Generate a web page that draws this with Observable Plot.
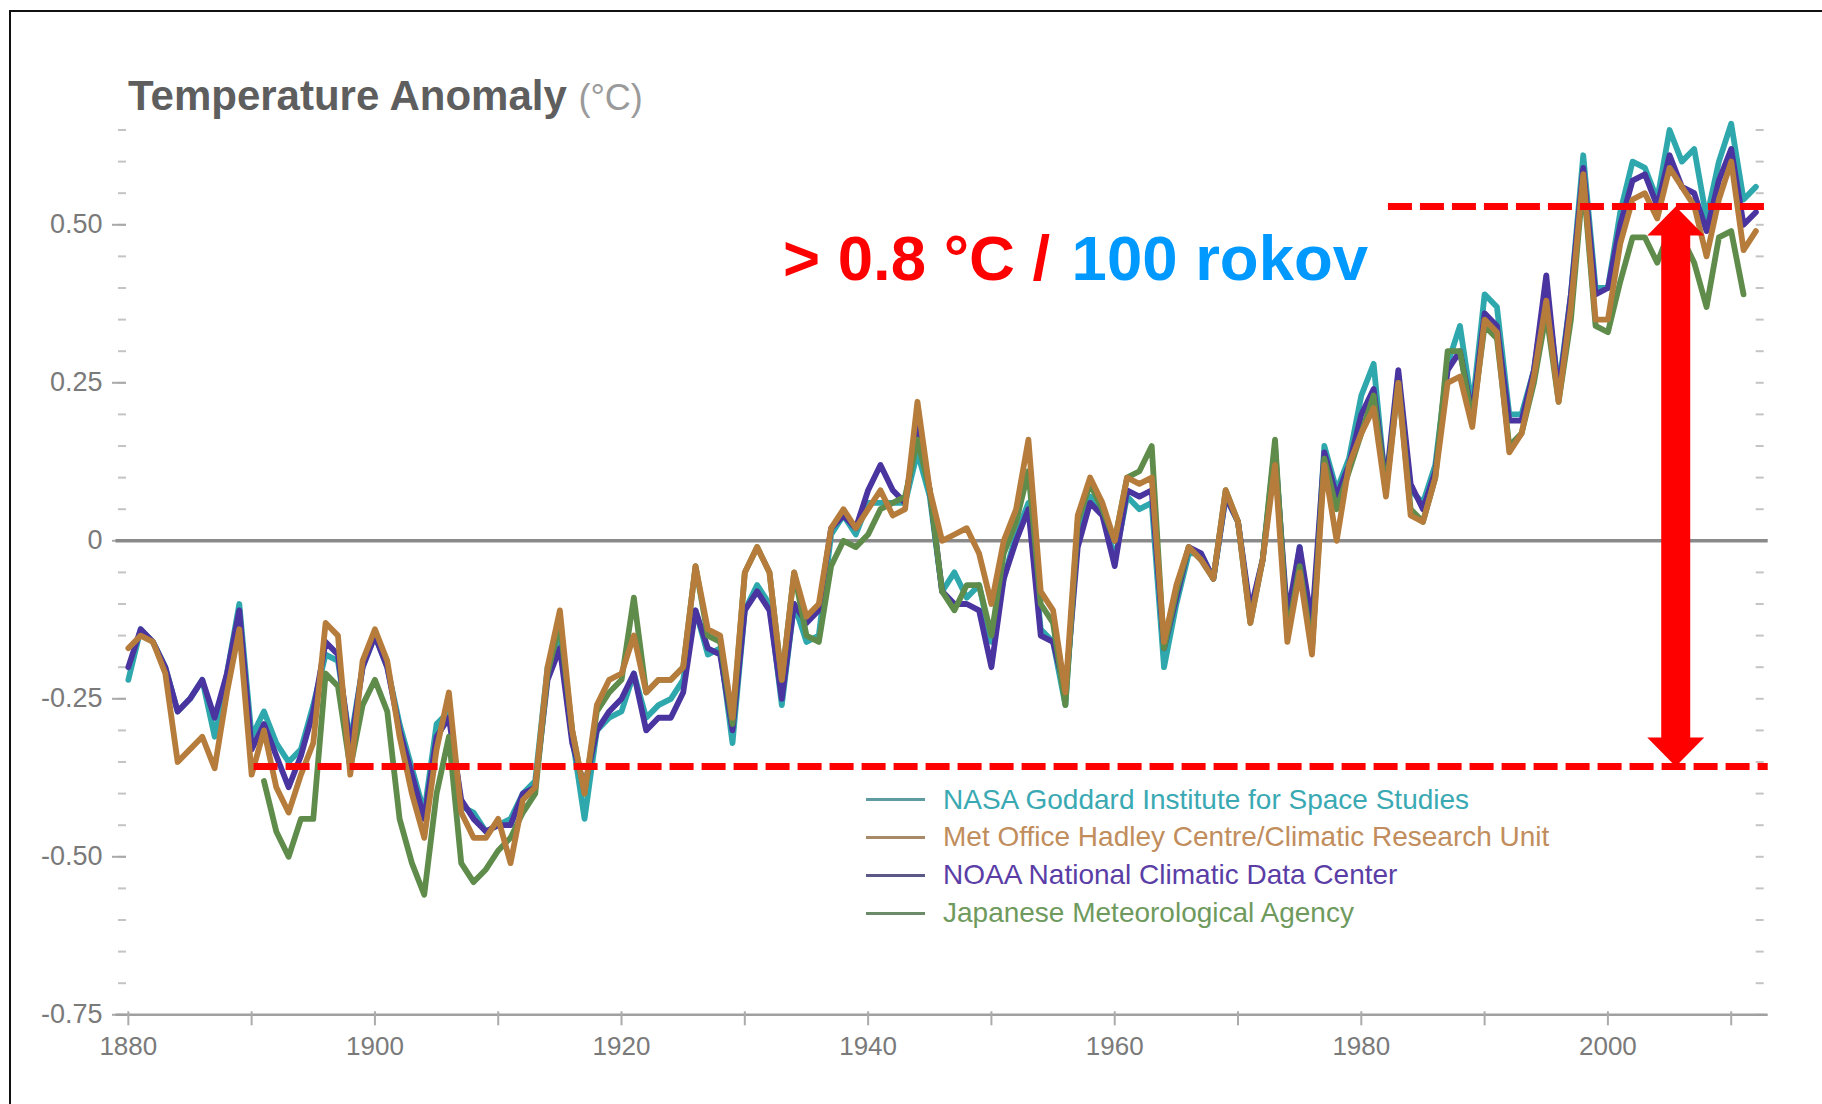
<!DOCTYPE html>
<html><head><meta charset="utf-8">
<script src="https://cdn.jsdelivr.net/npm/d3@7"></script>
<script src="https://cdn.jsdelivr.net/npm/@observablehq/plot@0.6"></script>
<style>
html,body{margin:0;padding:0;background:#fff;}
body{width:1822px;height:1104px;position:relative;overflow:hidden;font-family:"Liberation Sans",Arial,sans-serif;}
#chart{position:absolute;left:0;top:0;}
#frame{position:absolute;left:9px;top:10px;width:1830px;height:1100px;border-left:2.5px solid #111;border-top:2.5px solid #111;pointer-events:none;}
#title{position:absolute;left:128px;top:75px;font-size:42px;line-height:42px;font-weight:bold;color:#5e5e5e;white-space:nowrap;}
#title span{font-weight:normal;color:#9a9a9a;font-size:36px;}
.legend-row{position:absolute;left:866px;height:38px;display:flex;align-items:center;font-size:28px;white-space:nowrap;}
.legend-row .swatch{width:59px;height:3px;margin-right:18px;}
</style></head>
<body>
<div id="chart"></div>
<div id="frame"></div>
<div id="title">Temperature Anomaly <span>(°C)</span></div>
<div id="legend"></div>
<script>
// ---- categories ----
const firstYear = 1880, lastYear = 2012;
const jmaFirstYear = 1891;
const seriesNames = [
  "NASA Goddard Institute for Space Studies",
  "Met Office Hadley Centre/Climatic Research Unit",
  "NOAA National Climatic Data Center",
  "Japanese Meteorological Agency"
];
// ---- series values (°C anomaly), 1880..2012 ----
const nasa = [
  -0.22,-0.14,-0.16,-0.20,-0.27,-0.25,-0.22,-0.31,-0.21,-0.10,
  -0.31,-0.27,-0.32,-0.35,-0.33,-0.26,-0.18,-0.19,-0.32,-0.20,
  -0.15,-0.20,-0.29,-0.36,-0.43,-0.29,-0.27,-0.42,-0.43,-0.46,
  -0.45,-0.44,-0.40,-0.38,-0.20,-0.15,-0.31,-0.44,-0.30,-0.28,
  -0.27,-0.21,-0.28,-0.26,-0.25,-0.22,-0.11,-0.18,-0.17,-0.32,
  -0.11,-0.07,-0.10,-0.26,-0.10,-0.16,-0.15,0.01,0.04,0.01,
  0.06,0.06,0.06,0.06,0.14,0.07,-0.08,-0.05,-0.09,-0.07,
  -0.16,-0.06,0.01,0.06,-0.14,-0.16,-0.26,0.02,0.07,0.05,
  -0.03,0.07,0.05,0.06,-0.20,-0.10,-0.02,-0.02,-0.06,0.07,
  0.03,-0.12,-0.03,0.15,-0.14,-0.01,-0.17,0.15,0.08,0.13,
  0.23,0.28,0.08,0.26,0.08,0.06,0.12,0.28,0.34,0.21,
  0.39,0.37,0.20,0.20,0.27,0.40,0.24,0.39,0.61,0.40,
  0.40,0.52,0.60,0.59,0.54,0.65,0.60,0.62,0.51,0.60,
  0.66,0.54,0.56
];
const hadcrut = [
  -0.17,-0.15,-0.16,-0.21,-0.35,-0.33,-0.31,-0.36,-0.24,-0.14,
  -0.37,-0.30,-0.39,-0.43,-0.37,-0.32,-0.13,-0.15,-0.37,-0.19,
  -0.14,-0.19,-0.31,-0.40,-0.47,-0.33,-0.24,-0.43,-0.47,-0.47,
  -0.44,-0.51,-0.41,-0.39,-0.20,-0.11,-0.30,-0.40,-0.26,-0.22,
  -0.21,-0.15,-0.24,-0.22,-0.22,-0.20,-0.04,-0.14,-0.15,-0.28,
  -0.05,-0.01,-0.05,-0.22,-0.05,-0.12,-0.10,0.02,0.05,0.02,
  0.05,0.08,0.04,0.05,0.22,0.08,0.00,0.01,0.02,-0.02,
  -0.10,0.00,0.05,0.16,-0.08,-0.11,-0.24,0.04,0.10,0.06,
  0.00,0.10,0.09,0.10,-0.16,-0.07,-0.01,-0.03,-0.06,0.08,
  0.03,-0.13,-0.03,0.12,-0.16,-0.05,-0.18,0.12,0.00,0.12,
  0.17,0.21,0.07,0.25,0.04,0.03,0.10,0.25,0.26,0.18,
  0.35,0.33,0.14,0.17,0.26,0.38,0.22,0.37,0.58,0.35,
  0.35,0.47,0.54,0.55,0.51,0.59,0.56,0.53,0.45,0.54,
  0.60,0.46,0.49
];
const noaa = [
  -0.20,-0.14,-0.16,-0.20,-0.27,-0.25,-0.22,-0.28,-0.21,-0.11,
  -0.33,-0.29,-0.34,-0.39,-0.34,-0.27,-0.16,-0.18,-0.33,-0.20,
  -0.15,-0.20,-0.30,-0.37,-0.44,-0.31,-0.28,-0.41,-0.44,-0.46,
  -0.45,-0.45,-0.40,-0.39,-0.22,-0.17,-0.32,-0.39,-0.30,-0.27,
  -0.25,-0.21,-0.30,-0.28,-0.28,-0.24,-0.11,-0.17,-0.18,-0.30,
  -0.11,-0.08,-0.11,-0.25,-0.10,-0.13,-0.11,0.02,0.04,0.02,
  0.08,0.12,0.08,0.06,0.18,0.08,-0.08,-0.10,-0.10,-0.11,
  -0.20,-0.06,0.00,0.05,-0.15,-0.16,-0.24,-0.01,0.06,0.04,
  -0.04,0.08,0.07,0.08,-0.17,-0.09,-0.01,-0.02,-0.06,0.07,
  0.03,-0.11,-0.03,0.14,-0.12,-0.01,-0.13,0.14,0.07,0.12,
  0.20,0.24,0.09,0.27,0.09,0.05,0.11,0.27,0.30,0.20,
  0.36,0.34,0.19,0.19,0.27,0.42,0.23,0.39,0.59,0.39,
  0.40,0.50,0.57,0.58,0.53,0.61,0.56,0.55,0.49,0.57,
  0.62,0.50,0.52
];
// JMA: 1891..2011
const jma = [
  -0.38,-0.46,-0.50,-0.44,-0.44,-0.21,-0.23,-0.36,-0.26,
  -0.22,-0.27,-0.44,-0.51,-0.56,-0.40,-0.31,-0.51,-0.54,-0.52,
  -0.49,-0.47,-0.43,-0.40,-0.21,-0.13,-0.30,-0.40,-0.27,-0.24,
  -0.22,-0.09,-0.24,-0.22,-0.22,-0.20,-0.04,-0.15,-0.16,-0.29,
  -0.05,-0.01,-0.05,-0.22,-0.05,-0.15,-0.16,-0.04,0.00,-0.01,
  0.01,0.05,0.06,0.07,0.16,0.08,-0.08,-0.11,-0.07,-0.07,
  -0.15,-0.02,0.03,0.11,-0.10,-0.13,-0.26,0.03,0.09,0.05,
  0.00,0.10,0.11,0.15,-0.17,-0.08,-0.01,-0.03,-0.06,0.08,
  0.03,-0.13,-0.03,0.16,-0.15,-0.04,-0.17,0.13,0.05,0.11,
  0.17,0.23,0.08,0.25,0.05,0.03,0.10,0.30,0.30,0.19,
  0.34,0.32,0.15,0.17,0.25,0.36,0.22,0.35,0.57,0.34,
  0.33,0.41,0.48,0.48,0.44,0.49,0.48,0.44,0.37,0.48,
  0.49,0.39
];
// ---- tick labels ----
const yLabelTicks = [-0.75, -0.5, -0.25, 0, 0.25, 0.5];
const yMinorTicks = d3.range(-0.75, 0.6501, 0.05);
const xDecadeTicks = [1880,1890,1900,1910,1920,1930,1940,1950,1960,1970,1980,1990,2000,2010];
const xLabelTicks = [1880,1900,1920,1940,1960,1980,2000];
// ---- annotation values ----
const upperLevel = 0.529, lowerLevel = -0.357;
const upperFrom = 1982.2, lowerFrom = 1890.2, levelsTo = 2013;
const arrowYear = 2005.5;
const annotY = 0.413;
const annotRed = "> 0.8 °C /", annotRedYear = 1933.1;
const annotBlue = "100 rokov", annotBlueYear = 1956.5;

// ---- styles ----
const lineColors = {nasa: "#2fa8ad", hadcrut: "#b67c3c", noaa: "#4a34a0", jma: "#5f8c4b"};
const legendText = ["#3aa9b3", "#c18d5c", "#5a3ea6", "#6f9a5e"];
const legendSwatch = ["#5e9ca2", "#a98a68", "#5b5888", "#6c8b68"];

const table = d3.range(firstYear, lastYear + 1).map((year, i) => ({
  year,
  nasa: nasa[i],
  hadcrut: hadcrut[i],
  noaa: noaa[i],
  jma: year >= jmaFirstYear && year - jmaFirstYear < jma.length ? jma[year - jmaFirstYear] : null
}));

const headUp = {draw(ctx) { ctx.moveTo(0, 0); ctx.lineTo(28.5, 29); ctx.lineTo(-28.5, 29); ctx.closePath(); }};
const headDown = {draw(ctx) { ctx.moveTo(0, 0); ctx.lineTo(28.5, -29); ctx.lineTo(-28.5, -29); ctx.closePath(); }};

const fmtY = d => d === 0 ? "0" : d.toFixed(2);
const tickGray = "#c4c4c4";
const lw = 5.8;

const chart = Plot.plot({
  width: 1822,
  height: 1104,
  marginLeft: 115.5,
  marginRight: 54.3,
  marginTop: 129.5,
  marginBottom: 89.7,
  x: {domain: [1879, 2013]},
  y: {domain: [-0.75, 0.65]},
  style: {background: "transparent", fontFamily: "'Liberation Sans', Arial, sans-serif"},
  marks: [
    // axes
    Plot.axisY(yMinorTicks, {anchor: "left", tickSize: 8, dx: 10.5, stroke: tickGray, strokeWidth: 2, tickFormat: () => "", label: null}),
    Plot.axisY(yLabelTicks, {anchor: "left", tickSize: 14, dx: 10.5, stroke: "#a9a9a9", strokeWidth: 2, tickFormat: () => "", label: null}),
    Plot.axisY(yMinorTicks, {anchor: "right", tickSize: 8, dx: -13, stroke: tickGray, strokeWidth: 2, tickFormat: () => "", label: null}),
    Plot.axisY(yLabelTicks, {anchor: "left", tickSize: 0, tickPadding: 13.5, fontSize: 27, fill: "#7a7a7a", tickFormat: fmtY, label: null}),
    Plot.ruleY([-0.75], {stroke: "#a0a0a0", strokeWidth: 2.5}),
    Plot.axisX(xDecadeTicks, {anchor: "bottom", tickSize: 14, dy: -3, stroke: "#ababab", strokeWidth: 2, tickFormat: () => "", label: null}),
    Plot.axisX(xLabelTicks, {anchor: "bottom", tickSize: 0, tickPadding: 22, fontSize: 26, fill: "#7a7a7a", tickFormat: d => String(d), label: null}),
    Plot.ruleY([0], {stroke: "#8a8a8a", strokeWidth: 3.5}),
    // series
    Plot.line(table, {x: "year", y: "nasa", stroke: lineColors.nasa, strokeWidth: lw}),
    Plot.line(table, {x: "year", y: "noaa", stroke: lineColors.noaa, strokeWidth: lw}),
    Plot.line(table, {x: "year", y: "jma", stroke: lineColors.jma, strokeWidth: lw}),
    Plot.line(table, {x: "year", y: "hadcrut", stroke: lineColors.hadcrut, strokeWidth: lw}),
    // annotation
    Plot.ruleY([{y: upperLevel, x1: upperFrom, x2: levelsTo}], {y: "y", x1: "x1", x2: "x2", stroke: "#ff0000", strokeWidth: 7, strokeDasharray: "24,8"}),
    Plot.ruleY([{y: lowerLevel, x1: lowerFrom, x2: levelsTo}], {y: "y", x1: "x1", x2: "x2", stroke: "#ff0000", strokeWidth: 7, strokeDasharray: "24,8"}),
    Plot.ruleX([{x: arrowYear, top: upperLevel, bottom: lowerLevel}], {x: "x", y1: "top", y2: "bottom", stroke: "#ff0000", strokeWidth: 29, insetTop: 27, insetBottom: 27}),
    Plot.dot([{x: arrowYear, y: upperLevel}], {x: "x", y: "y", symbol: headUp, fill: "#ff0000", stroke: "none"}),
    Plot.dot([{x: arrowYear, y: lowerLevel}], {x: "x", y: "y", symbol: headDown, fill: "#ff0000", stroke: "none"}),
    Plot.text([{x: annotRedYear, y: annotY, t: annotRed}], {x: "x", y: "y", text: "t", textAnchor: "start", lineAnchor: "bottom", fill: "#ff0000", fontSize: 63.5, fontWeight: "bold"}),
    Plot.text([{x: annotBlueYear, y: annotY, t: annotBlue}], {x: "x", y: "y", text: "t", textAnchor: "start", lineAnchor: "bottom", fill: "#0099ff", fontSize: 63.5, fontWeight: "bold"})
  ]
});
document.getElementById("chart").append(chart);

// legend
const legend = document.getElementById("legend");
seriesNames.forEach((name, i) => {
  const row = document.createElement("div");
  row.className = "legend-row";
  row.style.top = (780.5 + i * 37.9) + "px";
  const sw = document.createElement("div");
  sw.className = "swatch";
  sw.style.background = legendSwatch[i];
  const tx = document.createElement("span");
  tx.textContent = name;
  tx.style.color = legendText[i];
  row.append(sw, tx);
  legend.append(row);
});
</script>
</body></html>
